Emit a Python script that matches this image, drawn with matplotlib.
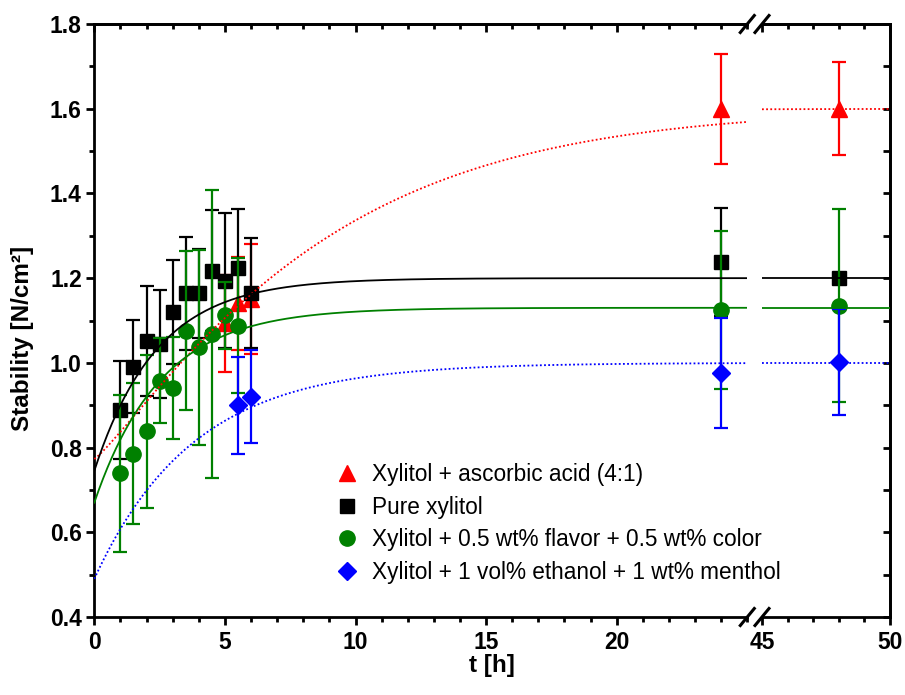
import numpy as np
import matplotlib
matplotlib.use("Agg")
import matplotlib.pyplot as plt
from matplotlib.lines import Line2D
from matplotlib.ticker import MultipleLocator, FixedLocator, NullFormatter

plt.rcParams['font.family'] = ['Liberation Sans', 'DejaVu Sans']

# ---- measured data (time in hours, stability in N/cm^2) ----
t_red = [5, 5.5, 6, 24, 48]
y_red = [1.093, 1.141, 1.150, 1.600, 1.600]
e_red = [0.115, 0.110, 0.130, 0.130, 0.110]

t_black = [1, 1.5, 2, 2.5, 3, 3.5, 4, 4.5, 5, 5.5, 6, 24, 48]
y_black = [0.889, 0.991, 1.052, 1.045, 1.120, 1.164, 1.164, 1.218, 1.194, 1.224, 1.164, 1.238, 1.200]
e_black = [0.115, 0.110, 0.130, 0.127, 0.123, 0.133, 0.105, 0.142, 0.160, 0.140, 0.130, 0.128, 0.010]

t_green = [1, 1.5, 2, 2.5, 3, 3.5, 4, 4.5, 5, 5.5, 24, 48]
y_green = [0.739, 0.786, 0.838, 0.958, 0.941, 1.076, 1.037, 1.067, 1.112, 1.088, 1.125, 1.135]
e_green = [0.185, 0.167, 0.181, 0.100, 0.120, 0.187, 0.230, 0.340, 0.080, 0.160, 0.187, 0.228]

t_blue = [5.5, 6, 24, 48]
y_blue = [0.900, 0.920, 0.976, 1.001]
e_blue = [0.115, 0.110, 0.130, 0.125]

labels = ["Xylitol + ascorbic acid (4:1)",
          "Pure xylitol",
          "Xylitol + 0.5 wt% flavor + 0.5 wt% color",
          "Xylitol + 1 vol% ethanol + 1 wt% menthol"]

# exponential saturation fits: y = A - B * exp(-(t/tau)**p)
fit_red = dict(A=1.600, B=0.827, tau=8.9, p=1.15)
fit_black = dict(A=1.200, B=0.455, tau=2.4, p=1.0)
fit_green = dict(A=1.130, B=0.460, tau=2.55, p=1.0)
fit_blue = dict(A=1.000, B=0.510, tau=3.8, p=1.0)

x_ticks_left = [0, 5, 10, 15, 20]
x_ticks_right = [45, 50]
y_ticks = [0.4, 0.6, 0.8, 1.0, 1.2, 1.4, 1.6, 1.8]

RED, BLACK, GREEN, BLUE = "#ff0000", "#000000", "#008000", "#0000ff"

W, H = 905, 695
fig = plt.figure(figsize=(W / 100, H / 100), dpi=100)


def px_rect(l, r, t, b):
    return [l / W, 1 - b / H, (r - l) / W, (b - t) / H]


ax1 = fig.add_axes(px_rect(94.3, 747.3, 24, 617))
ax2 = fig.add_axes(px_rect(762, 890, 24, 617))

series = [
    (t_red, y_red, e_red, RED, "^", 11.5, fit_red, (0, (1, 1.3))),
    (t_black, y_black, e_black, BLACK, "s", 10, fit_black, "-"),
    (t_green, y_green, e_green, GREEN, "o", 11, fit_green, "-"),
    (t_blue, y_blue, e_blue, BLUE, "D", 9.2, fit_blue, (0, (1, 1.3))),
]


def model(t, f):
    return f["A"] - f["B"] * np.exp(-(t / f["tau"]) ** f["p"])


for i, (t, y, e, c, m, ms, f, ls) in enumerate(series):
    for ax in (ax1, ax2):
        ax.errorbar(t, y, yerr=e, fmt=m, color=c, ms=ms, mec=c, mfc=c,
                    elinewidth=1.6, capsize=4.8, capthick=1.6, zorder=3 + i)
    tl = np.linspace(0, 25, 300)
    ax1.plot(tl, model(tl, f), color=c, lw=1.3, ls=ls, zorder=8)
    tr = np.linspace(45, 50, 60)
    ax2.plot(tr, model(tr, f), color=c, lw=1.3, ls=ls, zorder=8)

ax1.set_xlim(0, 25)
ax2.set_xlim(45, 50)
for ax in (ax1, ax2):
    ax.set_ylim(0.4, 1.8)
    ax.set_facecolor("none")
    for s in ax.spines.values():
        s.set_linewidth(2.0)

ax1.spines["right"].set_visible(False)
ax2.spines["left"].set_visible(False)

TICK_FS = 16.5

# bottom x ticks (outward) with labels
ax1.xaxis.set_major_locator(FixedLocator(x_ticks_left))
ax1.xaxis.set_minor_locator(MultipleLocator(1))
ax2.xaxis.set_major_locator(FixedLocator(x_ticks_right))
ax2.xaxis.set_minor_locator(MultipleLocator(1))
for ax in (ax1, ax2):
    ax.tick_params(axis="x", which="major", direction="out", length=6, width=2.0,
                   labelsize=TICK_FS, pad=4)
    ax.tick_params(axis="x", which="minor", direction="out", length=3.5, width=2.0)
    for lab in ax.get_xticklabels():
        lab.set_fontweight("bold")

    # top ticks pointing inward
    sec = ax.secondary_xaxis("top")
    sec.xaxis.set_major_locator(FixedLocator(x_ticks_left if ax is ax1 else x_ticks_right))
    sec.xaxis.set_minor_locator(MultipleLocator(1))
    sec.xaxis.set_major_formatter(NullFormatter())
    sec.tick_params(axis="x", which="major", direction="in", length=6, width=2.0)
    sec.tick_params(axis="x", which="minor", direction="in", length=3.5, width=2.0)
    sec.spines["top"].set_linewidth(2.0)

# left y axis
ax1.yaxis.set_major_locator(FixedLocator(y_ticks))
ax1.yaxis.set_minor_locator(MultipleLocator(0.1))
ax1.set_yticklabels([f"{v:.1f}" for v in y_ticks], fontweight="bold")
ax1.tick_params(axis="y", which="major", direction="out", length=6, width=2.0,
                labelsize=TICK_FS, pad=3)
ax1.tick_params(axis="y", which="minor", direction="out", length=3.5, width=2.0)

# right y axis: inward ticks, no labels
ax2.tick_params(axis="y", left=False, labelleft=False, which="both")
secy = ax2.secondary_yaxis("right")
secy.yaxis.set_major_locator(FixedLocator(y_ticks))
secy.yaxis.set_minor_locator(MultipleLocator(0.1))
secy.yaxis.set_major_formatter(NullFormatter())
secy.tick_params(axis="y", which="both", direction="in", length=5, width=2.0)
secy.spines["right"].set_linewidth(2.0)

ax1.set_ylabel("Stability [N/cm²]", fontsize=17.5, fontweight="bold")
ax1.yaxis.set_label_coords(-0.092, 0.47)
ax1.set_xlabel("t [h]", fontsize=17.5, fontweight="bold")
ax1.xaxis.set_label_coords(0.609, -0.062)

# axis break marks
for ax, xa in ((ax1, 1.0), (ax2, 0.0)):
    dx = 7 / 653 if ax is ax1 else 7 / 128
    dy = 8.5 / 593
    for ya in (0.0, 1.0):
        ax.add_line(Line2D([xa - dx, xa + dx], [ya - dy, ya + dy], transform=ax.transAxes,
                           color="black", lw=2.2, clip_on=False, zorder=20))

handles = [Line2D([], [], marker=m, color=c, ls="none", ms=ms)
           for (_, _, _, c, m, ms, _, _) in series]
fig.legend(handles, labels, loc="upper left", bbox_to_anchor=(335.7 / W, 1 - 463 / H),
           frameon=False, fontsize=16.3, handlelength=1.0, handletextpad=0.6,
           labelspacing=0.42, borderpad=0, borderaxespad=0)

fig.savefig("out.png", dpi=100)
